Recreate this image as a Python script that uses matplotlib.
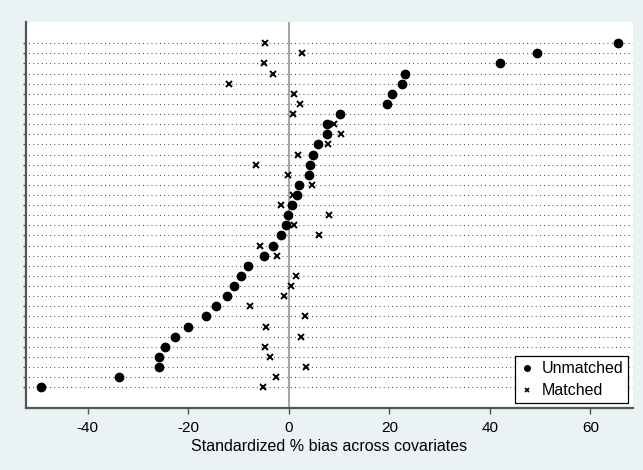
import numpy as np
import matplotlib.pyplot as plt

# standardized % bias per covariate, rows top to bottom
unmatched = [65.5, 49.4, 42.1, 23.2, 22.5, 20.5, 19.5, 10.2, 7.7, 7.7,
             5.9, 4.9, 4.2, 4.1, 2.0, 1.7, 0.7, -0.1, -0.5, -1.5,
             -3.1, -4.9, -8.2, -9.5, -10.9, -12.2, -14.5, -16.5, -20.1, -22.7,
             -24.7, -25.9, -25.9, -33.7, -49.3]
matched = [-4.8, 2.7, -5.0, -3.1, -12.0, 1.0, 2.3, 0.9, 9.0, 10.3,
           7.9, 1.9, -6.5, -0.1, 4.7, 0.9, -1.5, 8.0, 1.0, 6.0,
           -5.7, -2.3, -8.2, 1.4, 0.4, -1.0, -7.8, 3.3, -4.5, 2.4,
           -4.8, -3.7, 3.4, -2.5, -5.1]
xticks = [-40, -20, 0, 20, 40, 60]

plt.rcParams['font.family'] = ['Liberation Sans', 'DejaVu Sans']

n = len(unmatched)
rows = np.arange(1, n + 1)

fig = plt.figure(figsize=(6.43, 4.70), dpi=100)
fig.patch.set_facecolor('#eaf2f3')
ax = fig.add_axes([26/643, 1 - 408/470, 607/643, 386/470])
ax.set_facecolor('white')

for r in rows:
    ax.plot([-60, 80], [r, r], color='#3a3a3a', lw=0.8,
            linestyle=(0, (0.8, 3.0)), zorder=1)
ax.axvline(0, color='#a6a6a6', lw=1.5, zorder=2)

ax.plot(unmatched, rows, 'o', color='black', ms=6, ls='none',
        label='Unmatched', zorder=3)
ax.plot(matched, rows, 'x', color='black', ms=4, mew=1.4, ls='none',
        label='Matched', zorder=4)

ax.set_xlim(-52.3, 68.5)
ax.set_ylim(n + 2.05, 1 - 2.1)
ax.set_xticks(xticks)
ax.set_xticklabels([str(t) for t in xticks], fontsize=11)
ax.set_yticks(rows)
ax.set_yticklabels([])
ax.tick_params(axis='y', length=2, width=1, color='#555555', direction='out')
ax.tick_params(axis='x', length=4.5, width=1, color='#555555', pad=5)

for s in ['top', 'right']:
    ax.spines[s].set_visible(False)
ax.spines['left'].set_color('#555555')
ax.spines['left'].set_linewidth(1.6)
ax.spines['bottom'].set_color('#555555')
ax.spines['bottom'].set_linewidth(1.6)

ax.set_xlabel('Standardized % bias across covariates', fontsize=11.5, labelpad=3)

leg = ax.legend(loc='lower right', fontsize=11.5, frameon=True, fancybox=False,
                edgecolor='black', framealpha=1, handletextpad=0.4,
                borderpad=0.3, borderaxespad=0.3, handlelength=1.0,
                labelspacing=0.45)
leg.get_frame().set_linewidth(0.9)
hs = leg.legend_handles
hs[0].set_markersize(4)
hs[1].set_markersize(3.5)
hs[1].set_markeredgewidth(1.2)

fig.savefig('out.png', dpi=100, facecolor=fig.get_facecolor())
